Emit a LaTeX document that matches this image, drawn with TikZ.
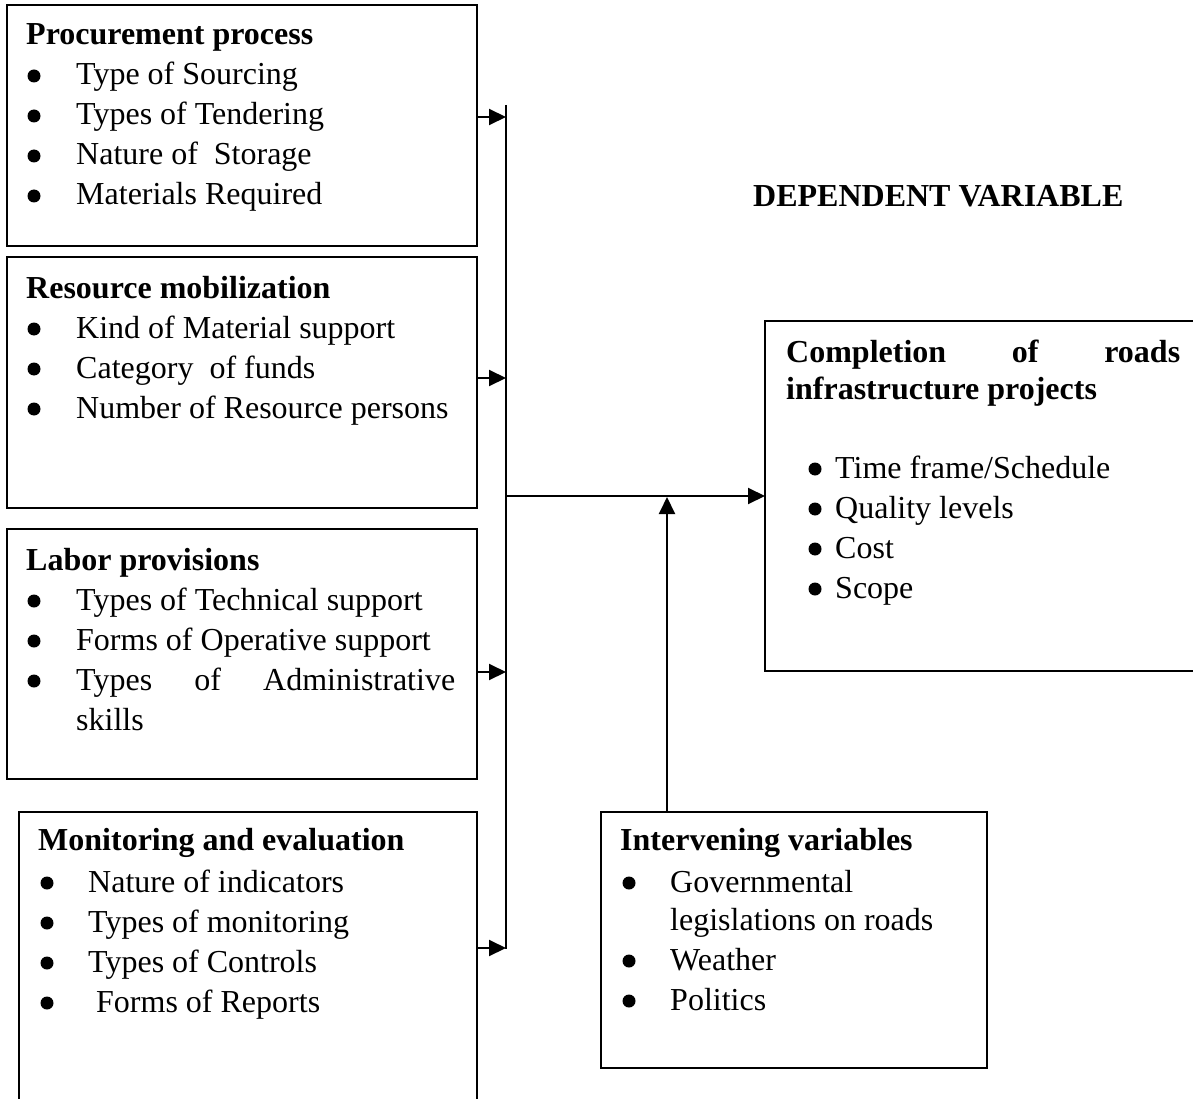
\documentclass[tikz,border=0pt]{standalone}
\usepackage{fontspec}
\setmainfont{Liberation Serif}
\usetikzlibrary{arrows.meta}
\tikzset{
  box/.style={draw, line width=2pt, anchor=north west, inner sep=0pt, outer sep=0pt},
  txt/.style={anchor=base west, inner sep=0pt, font=\fontsize{32}{40}\selectfont},
  hd/.style={anchor=base west, inner sep=0pt, font=\fontsize{32}{40}\selectfont\bfseries},
  bul/.style={circle, fill=black, draw=none, minimum size=13pt, inner sep=0pt, anchor=center},
  conn/.style={line width=2pt},
  arr/.style={conn, -{Triangle[length=17pt,width=16pt]}},
}
\newcommand\mkbox[5]{\node[box, minimum width={#4-#2}, minimum height={#5-#3}] (#1) at (#2,#3) {};}
% name, bullet x, text x, first baseline, items
\newcommand\blist[5]{%
  \foreach \t [count=\i] in {#5} {
    \node[bul] (#1b\i) at ({#2},{#4+40*(\i-1)-9}) {};
    \node[txt] (#1t\i) at ({#3},{#4+40*(\i-1)}) {\t};
  }}
\begin{document}
\begin{tikzpicture}[x=1pt,y=-1pt]
\useasboundingbox (0,0) rectangle (1193,1099);
\clip (0,0) rectangle (1193,1099);
% boxes
\mkbox{b1}{7}{5}{477}{246}
\mkbox{b2}{7}{257}{477}{508}
\mkbox{b3}{7}{529}{477}{779}
\mkbox{b4}{19}{812}{477}{1112}
\mkbox{rb}{765}{321}{1206}{671}
\mkbox{iv}{601}{812}{987}{1068}
% box 1
\node[hd] (h1) at (26,45) {Procurement process};
\blist{p}{34}{76}{85}{Type of Sourcing,Types of Tendering,Nature of~ Storage,Materials Required}
% box 2
\node[hd] (h2) at (26,298) {Resource mobilization};
\blist{r}{34}{76}{338}{Kind of Material support,Category~ of funds,Number of Resource persons}
% box 3
\node[hd] (h3) at (26,570) {Labor provisions};
\blist{l}{34}{76}{610}{Types of Technical support,Forms of Operative support}
\node[bul] (lb3) at (34,681) {};
\node[txt] (lt3) at (76,690) {\makebox[379pt][l]{Types\hfill of\hfill Administrative}};
\node[txt] (lt4) at (76,730) {skills};
% box 4
\node[hd] (h4) at (38,850) {Monitoring and evaluation};
\blist{m}{47}{88}{892}{Nature of indicators,Types of monitoring,Types of Controls}
\node[bul] (mb4) at (47,1003) {};
\node[txt] (mt4) at (96,1012) {Forms of Reports};
% dependent
\node[hd] (dep) at (753,207) {DEPENDENT VARIABLE};
\node[hd] (h5) at (786,362) {\makebox[394pt][l]{Completion\hfill of\hfill roads}};
\node[hd] (h5b) at (786,399) {infrastructure projects};
\blist{d}{815}{835}{478}{Time frame/Schedule,Quality levels,Cost,Scope}
% intervening
\node[hd] (h6) at (620,850) {Intervening variables};
\node[bul] (ib1) at (629,883) {};
\node[txt] (it1) at (670,892) {Governmental};
\node[txt] (it1b) at (670,930) {legislations on roads};
\node[bul] (ib2) at (629,961) {};
\node[txt] (it2) at (670,970) {Weather};
\node[bul] (ib3) at (629,1001) {};
\node[txt] (it3) at (670,1010) {Politics};
% connectors
\coordinate (bt) at (506,105);
\coordinate (bb) at (506,949);
\draw[conn] (bt) -- (bb);
\coordinate (a1) at (506,117);
\coordinate (a2) at (506,378);
\coordinate (a3) at (506,672);
\coordinate (a4) at (506,948);
\draw[arr] (b1.east |- a1) -- (a1);
\draw[arr] (b2.east |- a2) -- (a2);
\draw[arr] (b3.east |- a3) -- (a3);
\draw[arr] (b4.east |- a4) -- (a4);
\coordinate (mid) at (506,496);
\draw[arr] (mid) -- (rb.west);
\coordinate (jn) at (667,497);
\draw[arr] (iv.north -| jn) -- (jn);
\end{tikzpicture}
\end{document}
